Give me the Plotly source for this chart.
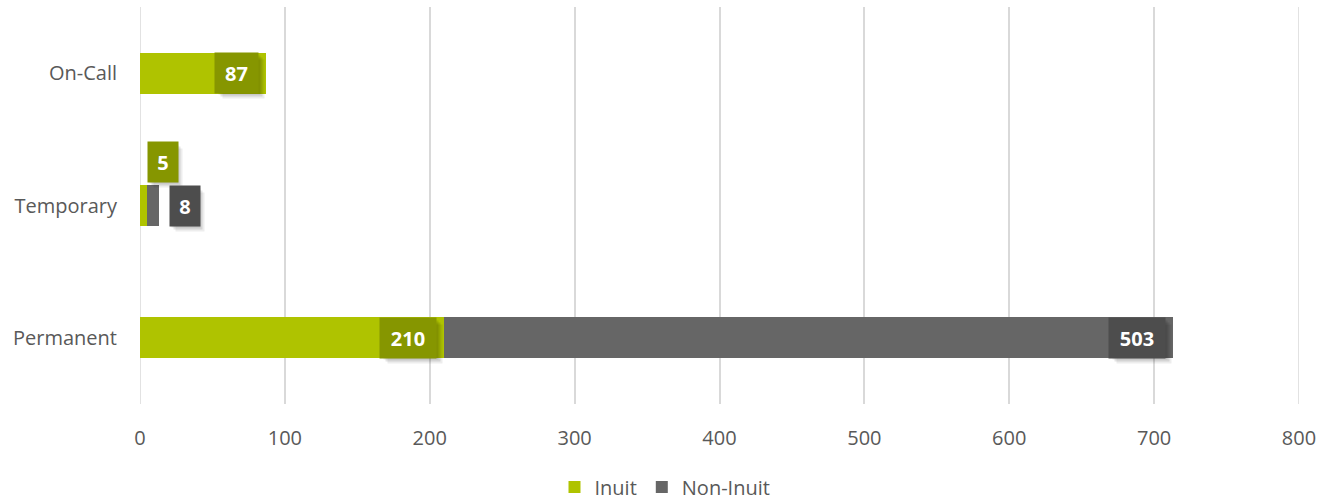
import plotly.graph_objects as go

categories = ["Permanent", "Temporary", "On-Call"]
inuit = [210, 5, 87]
non_inuit = [503, 8, None]
x_ticks = [0, 100, 200, 300, 400, 500, 600, 700, 800]

GREEN = "#afc300"
GREEN_DARK = "#869600"
GRAY = "#666666"
GRAY_DARK = "#4d4d4d"
FONT = "Open Sans"
GRID = "#d9d9d9"

fig = go.Figure()
fig.add_trace(go.Bar(y=categories, x=inuit, orientation="h", name="Inuit",
                     marker=dict(color=GREEN, line=dict(width=0))))
fig.add_trace(go.Bar(y=categories, x=[v if v is not None else 0 for v in non_inuit],
                     orientation="h", name="Non-Inuit",
                     marker=dict(color=GRAY, line=dict(width=0))))

# gridlines at the axis edges (plotly omits them)
for t in (x_ticks[0], x_ticks[-1]):
    fig.add_shape(type="line", xref="x", yref="paper", x0=t, x1=t, y0=0, y1=1,
                  line=dict(color=GRID, width=1.5), layer="below")

def label(x, y, text, bg, xanchor, xshift, yshift):
    w = 15 + 13 * len(text)
    for dx, a in ((6, 0.07), (4, 0.10), (2, 0.10)):
        fig.add_annotation(x=x, y=y, xref="x", yref="y", text="", showarrow=False,
                           xanchor=xanchor, yanchor="middle", xshift=xshift + dx, yshift=yshift - dx,
                           width=w, height=38, bgcolor="rgba(0,0,0,%g)" % a, borderpad=0)
    fig.add_annotation(x=x, y=y, xref="x", yref="y", text="<b>%s</b>" % text, showarrow=False,
                       xanchor=xanchor, yanchor="middle", xshift=xshift, yshift=yshift,
                       width=w, height=38, bgcolor=bg, borderpad=1,
                       font=dict(family=FONT, size=20, color="white"))

for cat, a, b in zip(categories, inuit, non_inuit):
    total = a + (b or 0)
    if cat == "Temporary":
        label(a, cat, str(a), GREEN_DARK, "left", 0, 44)
        label(total, cat, str(b), GRAY_DARK, "left", 10, 0)
    else:
        label(a, cat, str(a), GREEN_DARK, "right", -7, 0)
        if b:
            label(total, cat, str(b), GRAY_DARK, "right", -7, 0)

fig.update_layout(
    barmode="stack",
    bargap=0.69,
    width=1330, height=501,
    margin=dict(l=140, r=31, t=7, b=97),
    paper_bgcolor="white", plot_bgcolor="white",
    font=dict(family=FONT, size=20, color="#595959"),
    showlegend=True,
    legend=dict(orientation="h", xref="container", x=0.5, xanchor="center",
                yref="container", y=0.028, yanchor="middle", traceorder="normal",
                font=dict(family=FONT, size=20, color="#595959"),
                itemwidth=30, tracegroupgap=0),
    xaxis=dict(range=[0, 800], tickvals=x_ticks, showgrid=True, gridcolor=GRID,
               gridwidth=1.5, zeroline=False, showline=False, ticks="",
               ticklabelstandoff=20, fixedrange=True),
    yaxis=dict(categoryorder="array", categoryarray=categories, showgrid=False,
               zeroline=False, showline=False, ticks="", ticklabelstandoff=22),
)

fig.write_html("out.html")
